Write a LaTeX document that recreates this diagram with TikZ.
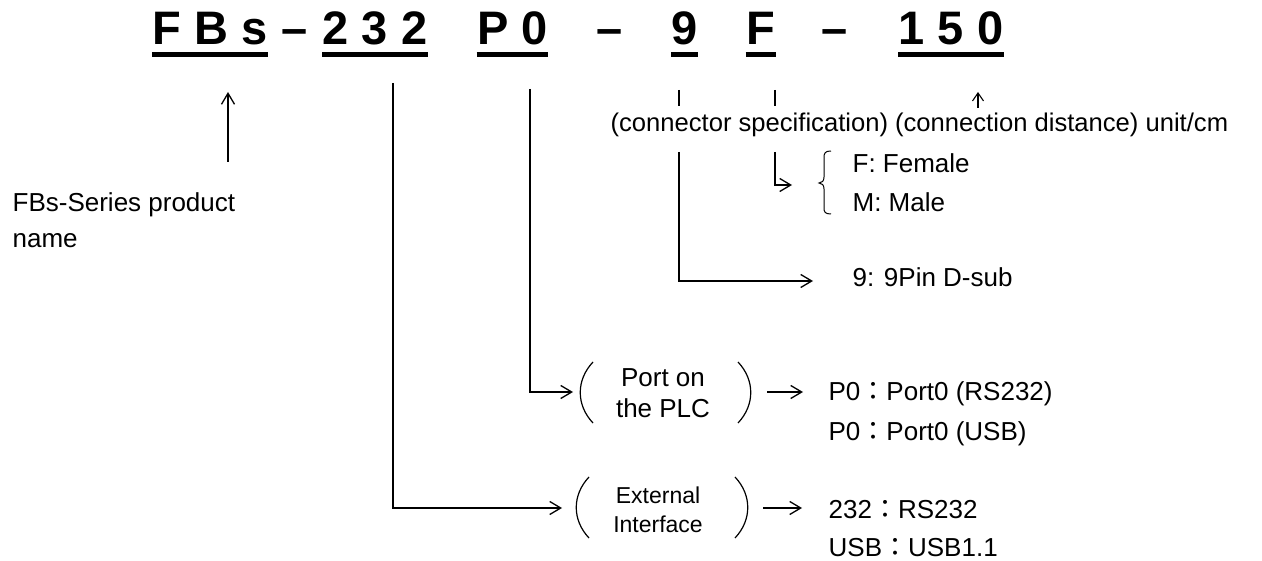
\documentclass[tikz,border=0pt]{standalone}
\usepackage{fontspec}
\setmainfont{Liberation Sans}
\newfontfamily\cjk{Noto Sans CJK TC}
\usetikzlibrary{arrows.meta}
\newcommand{\fc}{{\cjk ：}}
\begin{document}
\begin{tikzpicture}[x=1pt,y=-1pt,line width=1.3pt,
  title/.style={font=\fontsize{47}{50}\selectfont\bfseries,inner sep=0pt,anchor=base},
  txt/.style={font=\fontsize{26}{30}\selectfont,inner sep=0pt,anchor=base west},
  conn/.style={font=\fontsize{25.6}{30}\selectfont,inner sep=0pt,anchor=base west},
  small/.style={font=\fontsize{23}{29}\selectfont,inner sep=0pt,align=center},
  mid/.style={font=\fontsize{26}{31}\selectfont,inner sep=0pt,align=center},
  uline/.style={line width=4.5pt},
  arr/.style={-{Straight Barb[length=11pt,width=13pt]}},
  paren/.style={line width=1.2pt}]
\useasboundingbox (0,0) rectangle (1262,561);
% title
\node[title] (t1) at (210,45) {F B s};
\node[title] (d1) at (295,45) {–};
\node[title] (t2) at (375,45) {2 3 2};
\node[title] (t3) at (512.5,45) {P 0};
\node[title] (d2) at (610,45) {–};
\node[title] (t4) at (684.5,45) {9};
\node[title] (t5) at (760.5,45) {F};
\node[title] (d3) at (835,45) {–};
\node[title] (t6) at (951,45) {1 5 0};
\coordinate (u) at (0,54.5);
\foreach \n in {t1,t2,t3,t4,t5,t6}{
  \draw[uline] (\n.west |- u) -- (\n.east |- u);
}
% product name
\node[txt] (pn1) at (12,212) {FBs-Series product};
\node[txt] (pn2) at (12,248) {name};
\coordinate (pa) at (228,162);
\coordinate (pb) at (228,92);
\draw[arr] (pa) -- (pb);
% connector spec line
\node[conn] (spec) at (610,132) {(connector specification) (connection distance) unit/cm};
\coordinate (k1a) at (679,90); \coordinate (k1b) at (679,106);
\coordinate (k2a) at (775,90); \coordinate (k2b) at (775,106);
\draw (k1a) -- (k1b);
\draw (k2a) -- (k2b);
\coordinate (la) at (978,108); \coordinate (lb) at (978,92);
\draw[-{Straight Barb[length=8pt,width=11pt]},line width=1.1pt] (la) -- (lb);
% F / M
\node[txt] (fem) at (852,173) {F: Female};
\node[txt] (mal) at (852,212) {M: Male};
\draw[line width=1pt] (831,151) .. controls (825,151) and (824,153) .. (824,158) -- (824,177)
  .. controls (824,181) and (822,183) .. (819,183)
  .. controls (822,183) and (824,185) .. (824,189) -- (824,208)
  .. controls (824,212) and (825,214) .. (831,214);
\coordinate (fs) at (775,152); \coordinate (ft) at (792,185);
\draw[arr] (fs) |- (ft);
% 9 pin
\node[txt] (pin) at (852,287) {9: 9Pin D-sub};
\coordinate (ns) at (679,152); \coordinate (nt) at (813,281);
\draw[arr] (ns) |- (nt);
% Port on the PLC
\node[mid] (port) at (663,393) {Port on\\the PLC};
\draw[paren] (593,362) .. controls (576,380) and (576,405) .. (593,423);
\draw[paren] (738,362) .. controls (755,380) and (755,405) .. (738,423);
\coordinate (ps) at (530,89); \coordinate (pt) at (573,392);
\draw[arr] (ps) |- (pt);
\coordinate (pr1) at (767,392); \coordinate (pr2) at (803,392);
\draw[arr] (pr1) -- (pr2);
\node[txt] (p1) at (828,401) {P0\fc Port0 (RS232)};
\node[txt] (p2) at (828,440) {P0\fc Port0 (USB)};
% External Interface
\node[small] (ext) at (658,510) {External\\Interface};
\draw[paren] (589,477) .. controls (572,495) and (572,520) .. (589,538);
\draw[paren] (735,477) .. controls (752,495) and (752,520) .. (735,538);
\coordinate (es) at (393,83); \coordinate (et) at (562,508);
\draw[arr] (es) |- (et);
\coordinate (er1) at (763,508); \coordinate (er2) at (802,508);
\draw[arr] (er1) -- (er2);
\node[txt] (e1) at (828,518) {232\fc RS232};
\node[txt] (e2) at (828,556) {USB\fc USB1.1};
\end{tikzpicture}
\end{document}
